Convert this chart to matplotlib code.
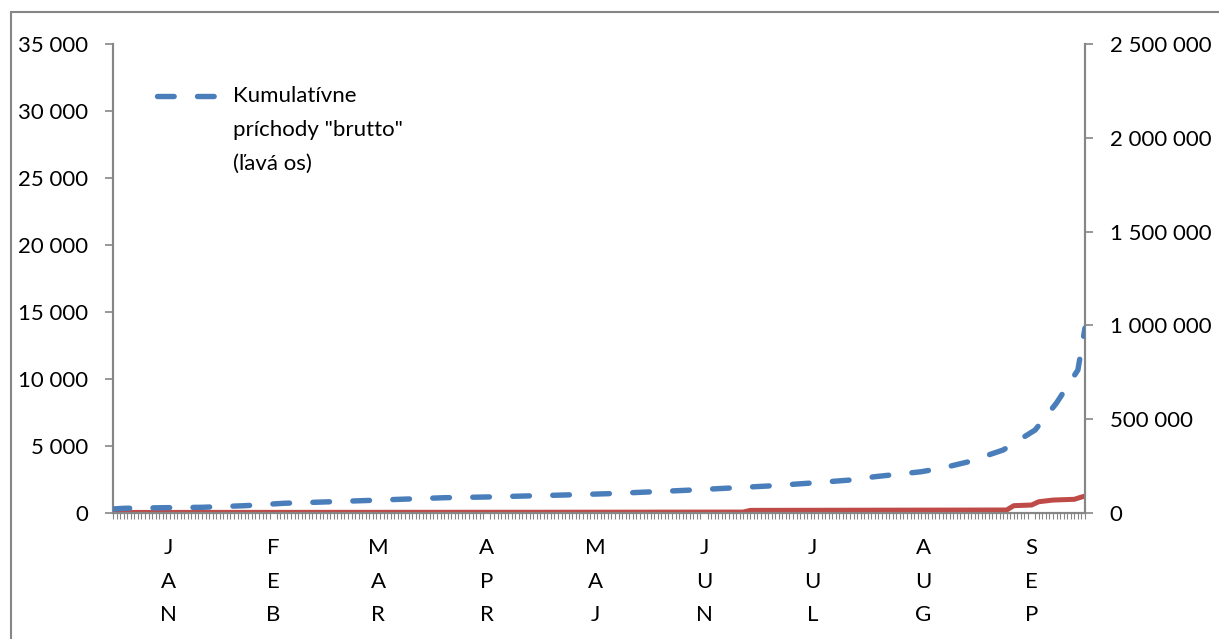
import numpy as np
import matplotlib.pyplot as plt
from matplotlib.lines import Line2D
from matplotlib.patches import Rectangle

plt.rcParams['font.family'] = ['Lato', 'DejaVu Sans']
plt.rcParams['lines.scale_dashes'] = False

# kumulatívne príchody "brutto" (ľavá os), deň od 1. januára
blue_days = [0, 3, 14, 25, 37, 48, 59, 70, 83, 93, 105, 116, 127, 139, 150,
             161, 172, 184, 195, 207, 214, 227, 233, 240, 250, 259, 265, 271, 273]
blue_vals = [300, 350, 395, 425, 545, 725, 820, 920, 1045, 1140, 1195, 1270,
             1345, 1440, 1565, 1695, 1845, 2015, 2215, 2460, 2710, 3080, 3360,
             3805, 4700, 6195, 8210, 10670, 13800]

# druhý rad (pravá os)
red_days = [0, 120, 177, 179, 251, 253, 258, 260, 264, 270, 272, 273]
red_vals = [3000, 4000, 5000, 14000, 16000, 39000, 42600, 60000, 69000, 73000,
            85000, 90000]

months = ["JAN", "FEB", "MAR", "APR", "MAJ", "JUN", "JUL", "AUG", "SEP"]
month_len = [31, 28, 31, 30, 31, 30, 31, 31, 30]

left_ticks = np.arange(0, 35001, 5000)
right_ticks = np.arange(0, 2500001, 500000)

def fmt(v):
    return f"{v:,}".replace(",", " ")

grey = "#868686"
blue = "#4A7EBB"
red = "#BE4B48"
fs = 16

fig = plt.figure(figsize=(12.19, 6.39), dpi=100)
ax = fig.add_axes([113 / 1219, 1 - 513 / 639, (1085 - 113) / 1219, (513 - 44) / 639])
ax2 = ax.twinx()

ax.plot(blue_days, blue_vals, color=blue, lw=3.9, linestyle=(0, (12.0, 16.8)),
        dash_capstyle='round', solid_capstyle='round', zorder=3)
ax2.plot(red_days, red_vals, color=red, lw=3.6, solid_capstyle='round', zorder=2)
ax.set_zorder(ax2.get_zorder() + 1)
ax.patch.set_visible(False)

total = sum(month_len)
ax.set_xlim(0, total)
ax.set_ylim(0, 35000)
ax2.set_ylim(0, 2500000)

ax.set_yticks(left_ticks)
ax.set_yticklabels([fmt(v) for v in left_ticks])
ax2.set_yticks(right_ticks)
ax2.set_yticklabels([fmt(v) for v in right_ticks])

starts = np.cumsum([0] + month_len[:-1])
centers = starts + np.array(month_len) / 2
ax.set_xticks(centers)
ax.set_xticklabels(["\n".join(m) for m in months], linespacing=1.85)
ax.set_xticks(np.arange(0, total + 1), minor=True)
ax.tick_params(axis='x', which='major', length=0, pad=18, labelsize=fs)
ax.tick_params(axis='x', which='minor', length=4.3, width=0.8, color=grey)

ax.tick_params(axis='y', length=5.8, width=1.2, color=grey, pad=12, labelsize=fs)
ax2.tick_params(axis='y', length=5.8, width=1.2, color=grey, pad=12, labelsize=fs)

for a in (ax, ax2):
    for s in a.spines.values():
        s.set_color(grey)
        s.set_linewidth(1.5)
    a.spines['top'].set_visible(False)

# legenda
fig.add_artist(Line2D([157 / 1219, 216 / 1219], [1 - 96 / 639] * 2, color=blue,
                      lw=3.9, linestyle=(0, (12.0, 16.8)), dash_capstyle='round'))
fig.text(233 / 1219, 1 - 86 / 639, 'Kumulatívne\npríchody "brutto"\n(ľavá os)',
         fontsize=fs, va='top', ha='left', linespacing=1.87)

# rám grafu
fig.add_artist(Rectangle((11 / 1219, -0.5), 2, 1.5 - 12 / 639, fill=False,
                         edgecolor=grey, lw=1.5, clip_on=False))

fig.savefig("out.png", dpi=100)
